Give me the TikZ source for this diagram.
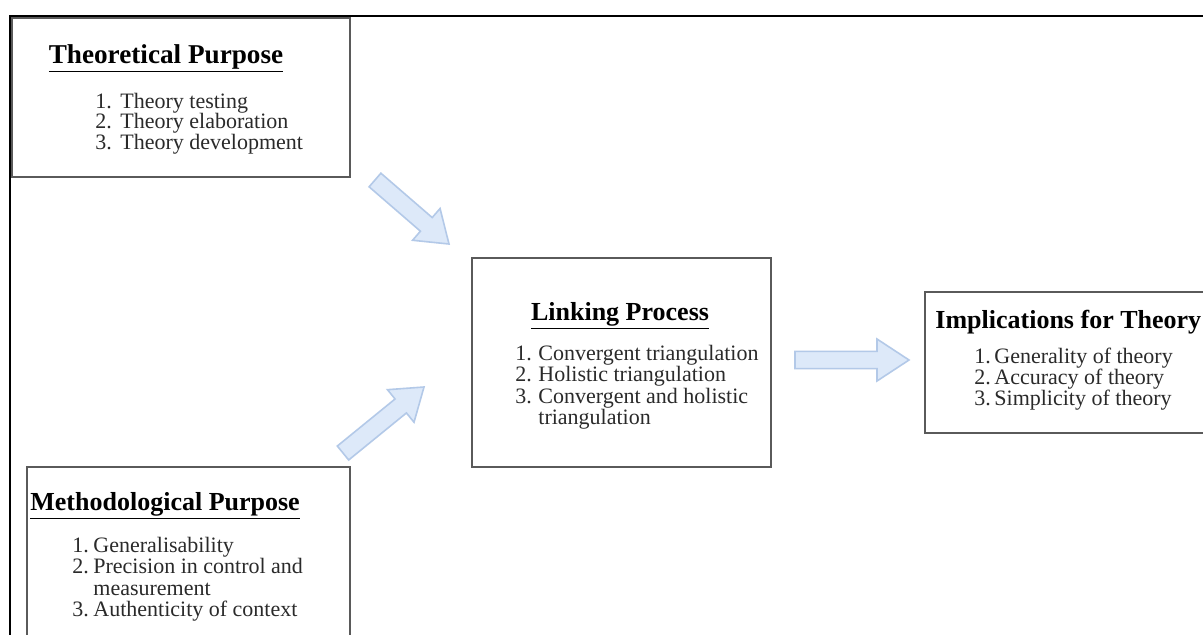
\documentclass[tikz,border=0pt]{standalone}
\usepackage{fontspec}
\setmainfont{Liberation Serif}
\usetikzlibrary{calc}

\definecolor{arrowfill}{HTML}{DDE9F9}
\definecolor{arrowline}{HTML}{B3C9E8}
\definecolor{boxline}{HTML}{5A5A5A}
\definecolor{inktext}{HTML}{2A2A2A}

\tikzset{
  panel/.style={draw=boxline, line width=1.1pt, fill=white},
  heading/.style={inner sep=0pt, anchor=base, text=black,
    font=\fontsize{13}{13}\selectfont\bfseries},
  itemnum/.style={inner sep=0pt, anchor=base west, text=inktext,
    font=\fontsize{11}{11}\selectfont},
  itemtext/.style={itemnum},
  blockarrow/.style={draw=arrowline, line width=0.8pt, fill=arrowfill, line join=miter},
}

% Broad block arrow from #1 (tail) to #2 (tip); #3 half shaft, #4 half head, #5 head length
\newcommand\blkarrow[5]{%
  \coordinate (#1-#2-h) at ($(#2)!#5!(#1)$);
  \draw[blockarrow]
    ($(#1)!#3!90:(#2)$) -- ($(#1-#2-h)!#3!90:(#2)$) -- ($(#1-#2-h)!#4!90:(#2)$)
    -- (#2)
    -- ($(#1-#2-h)!#4!-90:(#2)$) -- ($(#1-#2-h)!#3!-90:(#2)$) -- ($(#1)!#3!-90:(#2)$)
    -- cycle;}

\begin{document}
\begin{tikzpicture}[x=0.5pt, y=-0.5pt]
\useasboundingbox (0,0) rectangle (1203,634);
\clip (0,0) rectangle (1203,634);
\fill[white] (0,0) rectangle (1203,634);

% outer frame (top and left edges)
\draw[black, line width=1pt] (1210,16) -- (10,16) -- (10,640);

% ---- Theoretical Purpose ----
\draw[panel] (12,18) rectangle (350,177);
\node[heading, font=\fontsize{13.6}{13.6}\selectfont\bfseries] (theoT) at (166,63) {\underline{Theoretical Purpose}};
\node[itemnum] (theo1n) at (95,108) {1.};
\node[itemtext] (theo1) at (120,108) {Theory testing};
\node[itemnum] (theo2n) at (95,128) {2.};
\node[itemtext] (theo2) at (120,128) {Theory elaboration};
\node[itemnum] (theo3n) at (95,149) {3.};
\node[itemtext] (theo3) at (120,149) {Theory development};

% ---- Methodological Purpose ----
\draw[panel] (27,467) rectangle (350,660);
\node[heading, anchor=base west] (methT) at (30,510) {\underline{Methodological Purpose}};
\node[itemnum] (meth1n) at (72,552) {1.};
\node[itemtext] (meth1) at (93,552) {Generalisability};
\node[itemnum] (meth2n) at (72,573) {2.};
\node[itemtext] (meth2) at (93,573) {Precision in control and};
\node[itemtext] (meth2b) at (93,595) {measurement};
\node[itemnum] (meth3n) at (72,616) {3.};
\node[itemtext] (meth3) at (93,616) {Authenticity of context};

% ---- Linking Process ----
\draw[panel] (472,258) rectangle (771,467);
\node[heading] (linkT) at (620,320) {\underline{Linking Process}};
\node[itemnum] (link1n) at (515,360) {1.};
\node[itemtext] (link1) at (538,360) {Convergent triangulation};
\node[itemnum] (link2n) at (515,381) {2.};
\node[itemtext] (link2) at (538,381) {Holistic triangulation};
\node[itemnum] (link3n) at (515,403) {3.};
\node[itemtext] (link3) at (538,403) {Convergent and holistic};
\node[itemtext] (link3b) at (538,424) {triangulation};

% ---- Implications for Theory ----
\draw[panel] (925,292) rectangle (1230,433);
\node[heading, anchor=base west] (implT) at (935,328) {Implications for Theory};
\node[itemnum] (impl1n) at (974,363) {1.};
\node[itemtext] (impl1) at (994,363) {Generality of theory};
\node[itemnum] (impl2n) at (974,384) {2.};
\node[itemtext] (impl2) at (994,384) {Accuracy of theory};
\node[itemnum] (impl3n) at (974,405) {3.};
\node[itemtext] (impl3) at (994,405) {Simplicity of theory};

% ---- block arrows between the panels ----
\coordinate (theoOut) at (375,180);
\coordinate (linkInA) at (449,244);
\coordinate (methOut) at (343,453);
\coordinate (linkInB) at (424,387);
\coordinate (linkOut) at (795,360);
\coordinate (implIn) at (909,360);
\blkarrow{theoOut}{linkInA}{4.5pt}{10.5pt}{15pt}
\blkarrow{methOut}{linkInB}{4.5pt}{10.5pt}{15pt}
\blkarrow{linkOut}{implIn}{4.3pt}{10.5pt}{16pt}
\end{tikzpicture}
\end{document}
